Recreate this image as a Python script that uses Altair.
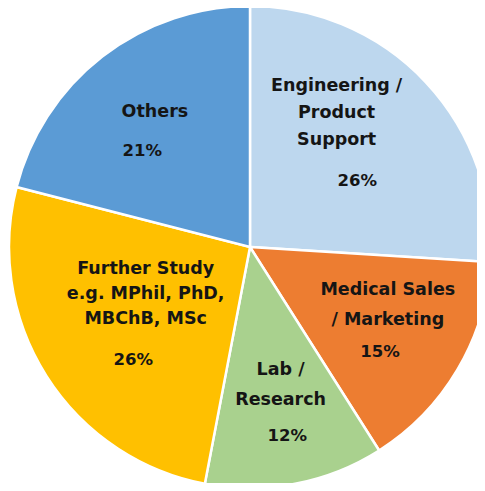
import altair as alt
import pandas as pd

categories = ["Engineering / Product Support", "Medical Sales / Marketing", "Lab / Research",
              "Further Study", "Others"]
names = ["Engineering /\nProduct\nSupport", "Medical Sales\n/ Marketing", "Lab /\nResearch",
         "Further Study\ne.g. MPhil, PhD,\nMBChB, MSc", "Others"]
values = [26, 15, 12, 26, 21]
pct_labels = ["26%", "15%", "12%", "26%", "21%"]
colors = ["#BDD7EE", "#ED7D31", "#A9D18E", "#FFC000", "#5B9BD5"]

df = pd.DataFrame({
    "category": categories,
    "name": names,
    "value": values,
    "pct": pct_labels,
    "order": list(range(len(categories))),
})

CX, CY, R = 242, 239, 241
FONT = "DejaVu Sans"

base = alt.Chart(df).encode(
    theta=alt.Theta("value:Q", stack=True),
    order=alt.Order("order:Q"),
    x=alt.value(CX),
    y=alt.value(CY),
)

pie = base.mark_arc(radius=R, stroke="white", strokeWidth=2.5).encode(
    color=alt.Color("category:N", scale=alt.Scale(domain=categories, range=colors), legend=None)
)

# label placement per slice: (name radius, dx, dy, pct radius, dx, dy, line height)
placement = {
    categories[0]: (160, -30, -51, 110, 27, 9, 27),
    categories[1]: (145, 13, -31, 165, -12, 21, 30),
    categories[2]: (142, 4, -16, 193, 1, -1, 30),
    categories[3]: (120, -3, -42, 162, 20, 26, 25),
    categories[4]: (165, 6, -5, 140, -22, 15, 27),
}

layers = [pie]
for cat, (rn, dxn, dyn, rp, dxp, dyp, lh) in placement.items():
    layers.append(
        base.mark_text(radius=rn, dx=dxn, dy=dyn, lineBreak="\n", lineHeight=lh,
                       font=FONT, fontSize=17.5, fontWeight="bold", color="#151515",
                       align="center", baseline="middle").encode(
            text=alt.condition(alt.datum.category == cat, "name:N", alt.value(""))
        )
    )
    layers.append(
        base.mark_text(radius=rp, dx=dxp, dy=dyp,
                       font=FONT, fontSize=16.5, fontWeight="bold", color="#151515",
                       align="center", baseline="middle").encode(
            text=alt.condition(alt.datum.category == cat, "pct:N", alt.value(""))
        )
    )

chart = alt.layer(*layers).properties(
    width=469, height=475, padding=0,
    autosize=alt.AutoSizeParams(type="none"),
).configure_view(strokeWidth=0)

chart.save("out.html", embed_options={"renderer": "svg", "actions": False})
